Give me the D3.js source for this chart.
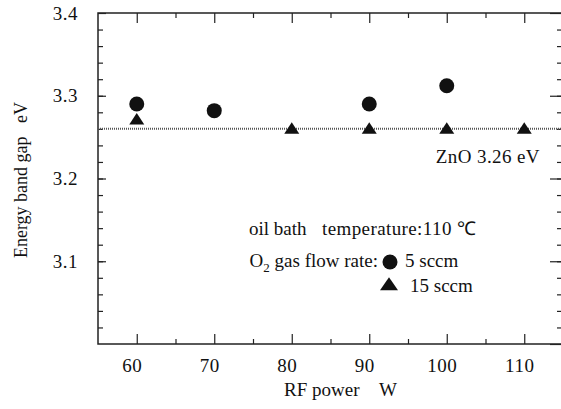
<!DOCTYPE html>
<html>
<head>
<meta charset="utf-8">
<script src="https://cdn.jsdelivr.net/npm/d3@7"></script>
<style>
  body { margin: 0; background: #fff; }
  text { font-family: "Liberation Serif", "Times New Roman", serif; fill: #111; }
</style>
</head>
<body>
<div id="chart"></div>
<script>
// data
let powerCircle = [60, 70, 90, 100];
let gapCircle = [3.290, 3.282, 3.290, 3.312];   // 5 sccm
let powerTri = [60, 80, 90, 100, 110];
let gapTri = [3.271, 3.260, 3.260, 3.260, 3.260]; // 15 sccm
let xMajor = [60, 70, 80, 90, 100, 110];
let xMinor = [65, 75, 85, 95, 105];
let yMajor = [3.0, 3.1, 3.2, 3.3, 3.4];
let yMinor = d3.range(3.02, 3.4, 0.02);
let znoGap = 3.26;

let svgWidth = 561;
let svgHeight = 409;

let margin = { top: 13, right: -2, bottom: 65, left: 98 };
let width = svgWidth - margin.left - margin.right;
let height = svgHeight - margin.top - margin.bottom;

let svg = d3.select("#chart")
  .append("svg")
  .attr("width", svgWidth)
  .attr("height", svgHeight);

let chartGroup = svg.append("g")
  .attr("transform", `translate(${margin.left}, ${margin.top})`);

let x = d3.scaleLinear().domain([55, 115]).range([0, width]);
let y = d3.scaleLinear().domain([3.0, 3.4]).range([height, 0]);

// frame
chartGroup.append("rect")
  .attr("width", width)
  .attr("height", height)
  .attr("fill", "none")
  .attr("stroke", "#222")
  .attr("stroke-width", 1.5);

function styleAxis(g) {
  g.select(".domain").remove();
  g.selectAll("line").attr("stroke", "#222").attr("stroke-width", 1.2);
  g.selectAll("text")
    .attr("font-size", "19px")
    .attr("letter-spacing", "0.5px")
    .attr("font-family", null)
    .attr("fill", "#111");
}

// bottom axis
chartGroup.append("g")
  .attr("transform", `translate(0, ${height})`)
  .call(d3.axisBottom(x).tickValues(xMajor).tickSize(-10).tickPadding(15).tickFormat(d3.format("d")))
  .call(styleAxis)
  .selectAll("text").attr("dx", -5);
chartGroup.append("g")
  .attr("transform", `translate(0, ${height})`)
  .call(d3.axisBottom(x).tickValues(xMinor).tickSize(-5).tickFormat(""))
  .call(styleAxis);
// top axis
chartGroup.append("g")
  .call(d3.axisTop(x).tickValues(xMajor).tickSize(-10).tickFormat(""))
  .call(styleAxis);
chartGroup.append("g")
  .call(d3.axisTop(x).tickValues(xMinor).tickSize(-5).tickFormat(""))
  .call(styleAxis);

// left axis
chartGroup.append("g")
  .call(d3.axisLeft(y).tickValues(yMajor.filter(d => d > 3.0)).tickSize(-8).tickPadding(20).tickFormat(d3.format(".1f")))
  .call(styleAxis);
chartGroup.append("g")
  .call(d3.axisLeft(y).tickValues(yMinor).tickSize(-5).tickFormat(""))
  .call(styleAxis);
// right axis
chartGroup.append("g")
  .attr("transform", `translate(${width}, 0)`)
  .call(d3.axisRight(y).tickValues(yMajor).tickSize(-13).tickFormat(""))
  .call(styleAxis);
chartGroup.append("g")
  .attr("transform", `translate(${width}, 0)`)
  .call(d3.axisRight(y).tickValues(yMinor).tickSize(-6).tickFormat(""))
  .call(styleAxis);

// ZnO reference line
chartGroup.append("line")
  .attr("x1", 0)
  .attr("x2", width)
  .attr("y1", y(znoGap))
  .attr("y2", y(znoGap))
  .attr("stroke", "#555")
  .attr("stroke-width", 2)
  .attr("stroke-dasharray", "1,1");

chartGroup.append("text")
  .attr("x", 540 - margin.left)
  .attr("y", y(znoGap) + 34)
  .attr("text-anchor", "end")
  .attr("font-size", "19px")
  .attr("letter-spacing", "0.4px")
  .text("ZnO 3.26 eV");

let circleData = powerCircle.map((p, i) => ({ p: p, g: gapCircle[i] }));
let triData = powerTri.map((p, i) => ({ p: p, g: gapTri[i] }));

// triangle marker, centroid at the origin
function triPath(w, h) {
  return `M0,${-2 * h / 3}L${w / 2},${h / 3}L${-w / 2},${h / 3}Z`;
}

chartGroup.selectAll(".tri")
  .data(triData)
  .enter()
  .append("path")
  .attr("class", "tri")
  .attr("d", triPath(15, 11.5))
  .attr("transform", d => `translate(${x(d.p)}, ${y(d.g) + 1})`)
  .attr("fill", "#111");

chartGroup.selectAll(".dot")
  .data(circleData)
  .enter()
  .append("circle")
  .attr("class", "dot")
  .attr("cx", d => x(d.p))
  .attr("cy", d => y(d.g))
  .attr("r", 7.5)
  .attr("fill", "#111");

// legend
let legend = svg.append("g")
  .attr("font-size", "19px");
legend.append("text")
  .attr("x", 249)
  .attr("y", 235)
  .text("oil bath");
legend.append("text")
  .attr("x", 322)
  .attr("y", 235)
  .attr("letter-spacing", "0.4px")
  .text("temperature:110 \u2103");

let flow = legend.append("text")
  .attr("x", 378)
  .attr("y", 267)
  .attr("text-anchor", "end");
flow.append("tspan").text("O");
flow.append("tspan").attr("font-size", "13px").attr("dy", 5).text("2");
flow.append("tspan").attr("dy", -5).text(" gas flow rate:");

legend.append("circle")
  .attr("cx", 390)
  .attr("cy", 262)
  .attr("r", 7.5)
  .attr("fill", "#111");
legend.append("text")
  .attr("x", 405)
  .attr("y", 267)
  .text("5 sccm");

legend.append("path")
  .attr("d", triPath(18, 13))
  .attr("transform", "translate(389, 286)")
  .attr("fill", "#111");
legend.append("text")
  .attr("x", 410)
  .attr("y", 292)
  .text("15 sccm");

// axis titles
svg.append("text")
  .attr("x", 284)
  .attr("y", 396)
  .attr("font-size", "19px")
  .text("RF power");
svg.append("text")
  .attr("x", 379)
  .attr("y", 396)
  .attr("font-size", "19px")
  .text("W");

svg.append("text")
  .attr("transform", "translate(27, 180) rotate(-90)")
  .attr("text-anchor", "middle")
  .attr("font-size", "18px")
  .attr("xml:space", "preserve")
  .text("Energy band gap   eV");
</script>
</body>
</html>
